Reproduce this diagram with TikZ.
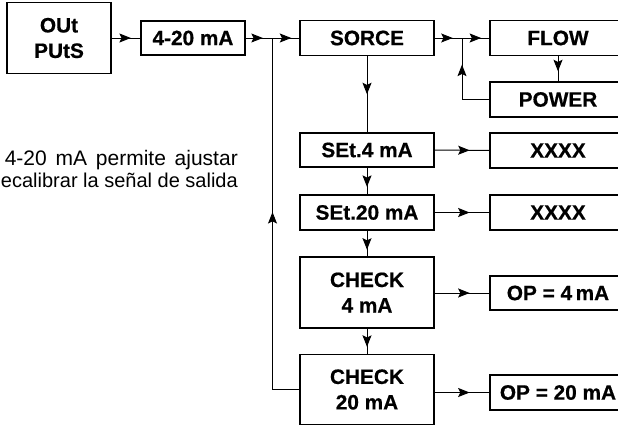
\documentclass[tikz,border=0pt]{standalone}
\usepackage{fontspec}
\setmainfont{Liberation Sans}[BoldFeatures={FakeBold=0.6}]
\usetikzlibrary{arrows.meta,decorations.markings,calc}
\tikzset{
  box/.style={draw, line width=1.3pt, font=\bfseries\fontsize{20.8}{25.5}\selectfont, align=center, inner sep=0pt},
  wbox/.style={box, minimum width=134pt},
  rbox/.style={box, minimum width=136pt},
  conn/.style={line width=1pt},
  desc/.style={anchor=base east, inner sep=0pt},
  midarrow/.style={postaction={decorate, decoration={markings, mark=at position #1 with {\arrow{Stealth[length=11.5pt,width=9pt,inset=2.2pt]}}}}},
}
\begin{document}
\begin{tikzpicture}[x=1pt,y=-1pt]
\useasboundingbox (0,0) rectangle (618,426);
\clip (0,0) rectangle (618,426);
% boxes
\node[box, minimum width=104pt, minimum height=71pt] (out) at (59,38) {OUt\\PUtS};
\node[box, minimum width=104pt, minimum height=34pt] (a) at (193,38) {4-20 mA};
\node[wbox, minimum height=35pt] (sorce) at (367,38) {SORCE};
\node[rbox, minimum height=35pt] (flow) at (558,38) {FLOW};
\node[rbox, minimum height=35pt] (power) at (558,99.5) {POWER};
\node[wbox, minimum height=34pt] (set4) at (367,150) {SEt.4 mA};
\node[rbox, minimum height=35pt] (x1) at (558,150.5) {XXXX};
\node[wbox, minimum height=35pt] (set20) at (367,212.5) {SEt.20 mA};
\node[rbox, minimum height=35pt] (x2) at (558,212.5) {XXXX};
\node[wbox, minimum height=71pt] (chk4) at (367,292.5) {CHECK\\4 mA};
\node[rbox, minimum height=34pt] (op4) at (558,293) {OP = 4\,mA};
\node[wbox, minimum height=70pt] (chk20) at (367,389.5) {CHECK\\20 mA};
\node[rbox, minimum height=35pt] (op20) at (558,392.5) {OP = 20 mA};
% description
\node[desc, font=\fontsize{21}{26}\selectfont] (desc1) at (238,165) {\makebox[233pt][s]{4-20 mA permite ajustar}};
\node[desc, font=\fontsize{20}{26}\selectfont] (desc2) at (238,187) {ecalibrar la señal de salida};
% junctions
\coordinate (j1) at ($(a.east)!0.5!(sorce.west)$);
\coordinate (j2) at ($(sorce.east)!0.5!(flow.west)$);
% connectors
\draw[conn, midarrow=0.67] (out.east) -- (a.west);
\draw[conn, midarrow=0.64] (a.east) -- (j1);
\draw[conn, midarrow=0.7] (j1) -- (sorce.west);
\draw[conn, midarrow=0.66] (sorce.east) -- (j2);
\draw[conn, midarrow=0.7] (j2) -- (flow.west);
\draw[conn, midarrow=0.6] (flow.south) -- (power.north);
\draw[conn, midarrow=0.7] (power.west) -| (j2);
\draw[conn, midarrow=0.5] (sorce.south) -- (set4.north);
\draw[conn, midarrow=0.64] (set4.east) -- (x1.west);
\draw[conn, midarrow=0.72] (set4.south) -- (set20.north);
\draw[conn, midarrow=0.64] (set20.east) -- (x2.west);
\draw[conn, midarrow=0.74] (set20.south) -- (chk4.north);
\draw[conn, midarrow=0.64] (chk4.east |- op4.west) -- (op4.west);
\draw[conn, midarrow=0.72] (chk4.south) -- (chk20.north);
\draw[conn, midarrow=0.64] (chk20.east |- op20.west) -- (op20.west);
\draw[conn, midarrow=0.54] (chk20.west) -| (j1);
\end{tikzpicture}
\end{document}
